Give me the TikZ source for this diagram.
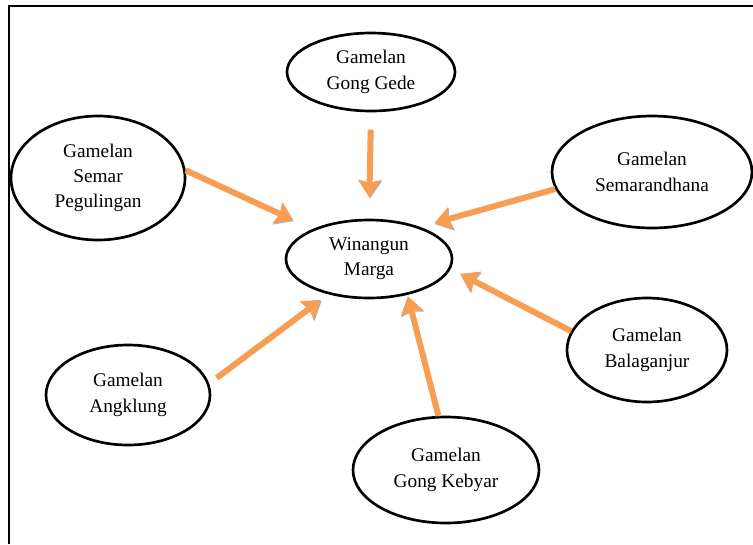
\documentclass[tikz,border=0pt]{standalone}
\usepackage{fontspec}
\setmainfont{Liberation Serif}
\usetikzlibrary{arrows.meta,shapes.geometric}
\definecolor{orng}{RGB}{247,157,84}
\begin{document}
\begin{tikzpicture}[x=0.75pt,y=-0.75pt,
      oval/.style={ellipse,draw=black,line width=2pt,inner sep=0pt,align=center,
        font=\fontsize{14.5}{19}\selectfont},
      feed/.style={draw=orng,line width=4.5pt,-{Stealth[length=13pt,width=17pt,inset=2pt]},
        preaction={draw=black!30,transform canvas={xshift=0.5pt,yshift=-0.9pt}}}]
      \useasboundingbox (0,0) rectangle (753,544);
      \draw[line width=1.2pt] (9,544) -- (9,6) -- (753,6);
      \node[oval,minimum width=124.5pt,minimum height=58.5pt] (win) at (369,259) {Winangun\\Marga};
      \node[oval,minimum width=126pt,minimum height=58.5pt] (gede) at (371,72) {Gamelan\\Gong Gede};
      \node[oval,minimum width=130.5pt,minimum height=93pt] (semar) at (98,178) {Gamelan\\Semar\\Pegulingan};
      \node[oval,minimum width=150pt,minimum height=84pt] (sema) at (652,172) {Gamelan\\Semarandhana};
      \node[oval,minimum width=120pt,minimum height=78pt] (bala) at (647,350) {Gamelan\\Balaganjur};
      \node[oval,minimum width=123pt,minimum height=75pt] (angk) at (128,395) {Gamelan\\Angklung};
      \node[oval,minimum width=139.5pt,minimum height=79.5pt] (keb) at (446,470) {Gamelan\\Gong Kebyar};
      \draw[feed,shorten <=13pt,shorten >=16pt] (gede.-90) -- (win.90);
      \draw[feed,shorten >=16pt] (semar.5) -- (win.152);
      \draw[feed,shorten >=11pt] (sema.190) -- (win.32);
      \draw[feed,shorten >=8pt] (bala.166) -- (win.-7);
      \draw[feed,shorten >=1pt] (keb.98) -- (win.-43);
      \draw[feed,shorten <=7pt,shorten >=7pt] (angk.8) -- (win.-139);
    \end{tikzpicture}
\end{document}
